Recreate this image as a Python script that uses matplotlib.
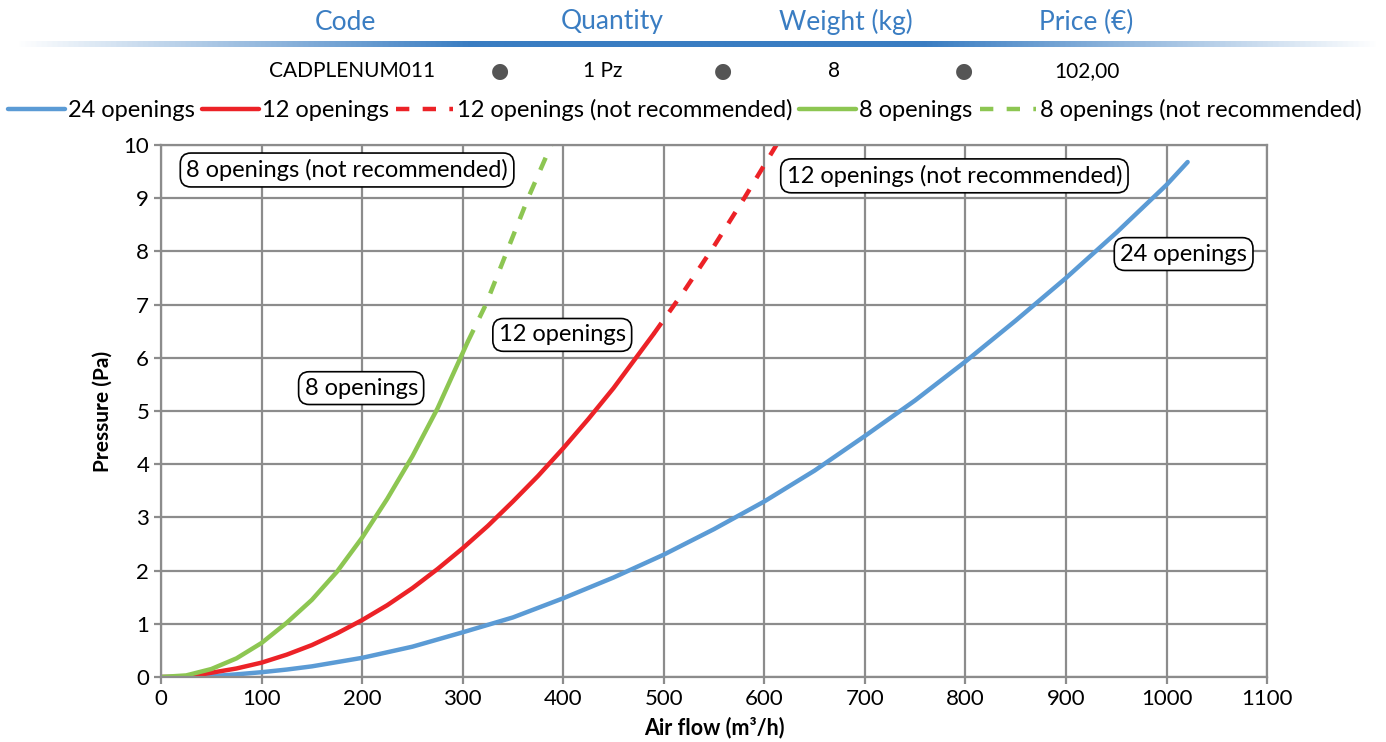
import numpy as np
import matplotlib
matplotlib.use("Agg")
import matplotlib.pyplot as plt
from matplotlib.colors import LinearSegmentedColormap

plt.rcParams['font.family'] = ['Lato', 'DejaVu Sans']

# header table
headers = ["Code", "Quantity", "Weight (kg)", "Price (€)"]
row_vals = ["CADPLENUM011", "1 Pz", "8", "102,00"]

# curves: air flow (m3/h) -> pressure (Pa)
q24 = [0, 40, 75, 100, 125, 150, 175, 200, 250, 300, 350, 400, 450, 500, 550, 600,
       650, 700, 750, 800, 850, 900, 950, 1000, 1021]
p24 = [0, 0, 0.05, 0.09, 0.14, 0.2, 0.28, 0.36, 0.57, 0.84, 1.12, 1.48, 1.87, 2.3, 2.78, 3.3,
       3.88, 4.53, 5.2, 5.93, 6.7, 7.5, 8.35, 9.25, 9.68]

q12 = [0, 25, 50, 75, 100, 125, 150, 175, 200, 225, 250, 275, 300, 325, 350, 375, 400, 425, 450, 490]
p12 = [0, 0, 0.08, 0.16, 0.27, 0.42, 0.6, 0.82, 1.07, 1.35, 1.67, 2.03, 2.42, 2.84, 3.3, 3.78,
       4.3, 4.85, 5.43, 6.45]
q12_nr = [490, 520, 550, 580, 612]
p12_nr = [6.45, 7.25, 8.1, 9.0, 10.0]

q8 = [0, 25, 50, 75, 100, 125, 150, 175, 200, 225, 250, 275, 305]
p8 = [0, 0.03, 0.15, 0.35, 0.64, 1.02, 1.45, 1.98, 2.62, 3.35, 4.15, 5.05, 6.3]
q8_nr = [305, 323, 344, 365, 388]
p8_nr = [6.3, 7.0, 8.0, 9.0, 10.0]

blue = "#5b9bd5"
red = "#ec2227"
green = "#8dc652"
grid_c = "#8c8c8c"

fig = plt.figure(figsize=(13.86, 7.42), dpi=100)
ax = fig.add_axes([0.1162, 0.0876, 0.798, 0.717])

ax.plot(q24, p24, color=blue, lw=3.2, label="24 openings", solid_capstyle='round', solid_joinstyle='round')
ax.plot(q12, p12, color=red, lw=3.2, label="12 openings", solid_capstyle='round', solid_joinstyle='round')
ax.plot(q12_nr, p12_nr, color=red, lw=3.2, ls=(0, (3, 3)), label="12 openings (not recommended)")
ax.plot(q8, p8, color=green, lw=3.2, label="8 openings", solid_capstyle='round', solid_joinstyle='round')
ax.plot(q8_nr, p8_nr, color=green, lw=3.2, ls=(0, (3, 3)), label="8 openings (not recommended)")

ax.set_xlim(0, 1100)
ax.set_ylim(0, 10)
ax.set_xticks(range(0, 1101, 100))
ax.set_yticks(range(0, 11))
ax.grid(True, color=grid_c, lw=1.6)
ax.set_axisbelow(True)
for s in ax.spines.values():
    s.set_color(grid_c)
    s.set_linewidth(1.6)
ax.tick_params(colors=grid_c, length=5, width=1.6, labelsize=16, labelcolor="black")

ax.set_xlabel("Air flow (m³/h)", fontsize=15.5, fontweight="bold", labelpad=6)
ax.set_ylabel("Pressure (Pa)", fontsize=15, fontweight="bold", labelpad=8)

# in-plot labels
boxes = [("8 openings (not recommended)", 185, 9.53),
         ("12 openings (not recommended)", 789, 9.42),
         ("24 openings", 1017, 7.95),
         ("12 openings", 399, 6.43),
         ("8 openings", 199, 5.43)]
for txt, x, y in boxes:
    ax.text(x, y, txt, fontsize=17, ha="center", va="center", zorder=5,
            bbox=dict(boxstyle="round,pad=0.25,rounding_size=0.45", fc="white", ec="black", lw=1.2))

handles, labels = ax.get_legend_handles_labels()
fig.legend(handles, labels, loc="center left", bbox_to_anchor=(8 / 1386, 1 - 110 / 742),
           ncol=5, frameon=False, fontsize=17, handlelength=2.4, handletextpad=0.15,
           columnspacing=0.3, borderaxespad=0, borderpad=0)

# header
hx = [345, 612, 846, 1086]
for h, x in zip(headers, hx):
    fig.text(x / 1386, 1 - 22 / 742, h, color="#3a7dc2", fontsize=19, ha="center", va="center")

gax = fig.add_axes([15 / 1386, 1 - 47 / 742, 1365 / 1386, 6 / 742])
cmap = LinearSegmentedColormap.from_list("hdr", ["#ffffff", "#3a7dc2", "#3a7dc2", "#ffffff"])
gax.imshow(np.linspace(0, 1, 512)[None, :], aspect="auto", cmap=cmap)
gax.axis("off")

rx = [352, 603, 834, 1087]
for v, x in zip(row_vals, rx):
    fig.text(x / 1386, 1 - 71 / 742, v, color="black", fontsize=15, ha="center", va="center")
for x in [500, 723, 964]:
    fig.text(x / 1386, 1 - 71 / 742, "●", color="#555555", fontsize=15,
             ha="center", va="center", family="DejaVu Sans")

fig.savefig("out.png", dpi=100)
